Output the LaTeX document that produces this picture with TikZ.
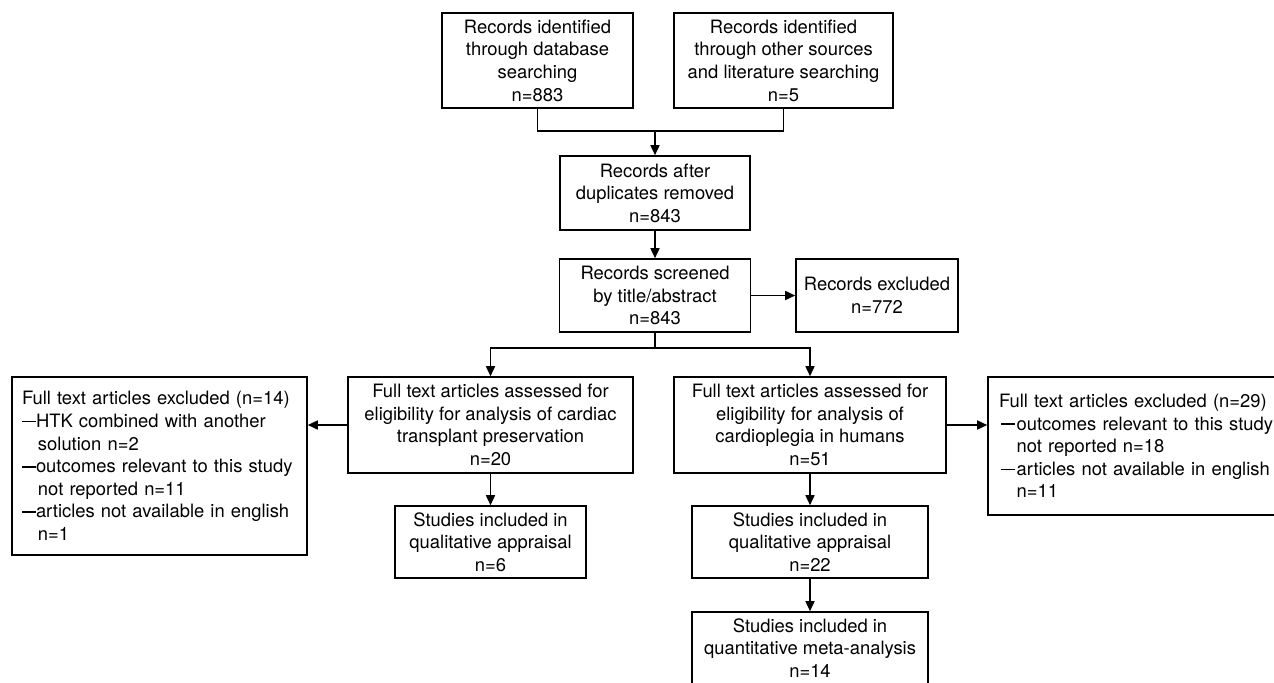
\documentclass[tikz,border=0pt]{standalone}
\usepackage{fontspec}
\setmainfont{TeX Gyre Heros}
\usetikzlibrary{arrows.meta}
\newcommand{\itemdash}{\rule[2.6pt]{7pt}{0.8pt}}
\tikzset{
  box/.style={draw, line width=0.8pt, align=center, inner sep=0pt,
    font=\fontsize{9.2}{11.3}\selectfont},
  listbox/.style={box, align=left},
  link/.style={line width=0.8pt},
  arr/.style={link, -{Triangle[length=5pt,width=4.5pt]}},
}
\begin{document}
\begin{tikzpicture}[x=0.5pt,y=-0.5pt]
  \clip (0,0) rectangle (1274,682);
  % identification
  \node[box, minimum width=95.5pt, minimum height=47.5pt] (db) at (537.5,60.5)
    {Records identified\\through database\\searching\\n=883};
  \node[box, minimum width=109.5pt, minimum height=47.5pt] (other) at (783.5,60.5)
    {Records identified\\through other sources\\and literature searching\\n=5};
  \node[box, minimum width=95pt, minimum height=37pt] (dup) at (655,193)
    {Records after\\duplicates removed\\n=843};
  % screening
  \node[box, minimum width=95.5pt, minimum height=36.5pt] (screen) at (655,295.5)
    {Records screened\\by title/abstract\\n=843};
  \node[box, minimum width=81pt, minimum height=36.5pt] (excl) at (877,295.5)
    {Records excluded\\n=772};
  % eligibility
  \node[box, minimum width=142.5pt, minimum height=48pt] (assL) at (490.5,425)
    {Full text articles assessed for\\eligibility for analysis of cardiac\\transplant preservation\\n=20};
  \node[box, minimum width=136pt, minimum height=48pt] (assR) at (810,425)
    {Full text articles assessed for\\eligibility for analysis of\\cardioplegia in humans\\n=51};
  \node[listbox, text width=137.5pt, inner xsep=5pt, minimum height=89pt] (exL) at (159.5,466)
    {Full text articles excluded (n=14)\\
     \itemdash HTK combined with another\\
     \hphantom{\itemdash}\hspace{1pt}solution n=2\\
     \itemdash outcomes relevant to this study\\
     \hphantom{\itemdash}\hspace{1pt}not reported n=11\\
     \itemdash articles not available in english\\
     \hphantom{\itemdash}\hspace{1pt}n=1};
  \node[listbox, text width=140pt, inner xsep=5.5pt, minimum height=69pt] (exR) at (1139,446)
    {Full text articles excluded (n=29)\\
     \hspace{1pt}\itemdash\hspace{0.8pt}outcomes relevant to this study\\
     \hspace{1pt}\hphantom{\itemdash}\hspace{0.8pt}not reported n=18\\
     \hspace{1pt}\itemdash\hspace{0.8pt}articles not available in english\\
     \hspace{1pt}\hphantom{\itemdash}\hspace{0.8pt}n=11};
  % included
  \node[box, minimum width=95.5pt, minimum height=36pt] (qualL) at (490.5,542)
    {Studies included in\\qualitative appraisal\\n=6};
  \node[box, minimum width=118pt, minimum height=36pt] (qualR) at (810,542)
    {Studies included in\\qualitative appraisal\\n=22};
  \node[box, minimum width=118pt, minimum height=36pt] (quant) at (810,648)
    {Studies included in\\quantitative meta-analysis\\n=14};
  % connectors
  \coordinate (join) at (dup.north |- 0,131);
  \coordinate (split) at (screen.south |- 0,348);
  \draw[link] (db.south) |- (join) -| (other.south);
  \draw[arr] (join) -- (dup.north);
  \draw[arr] (dup.south) -- (screen.north);
  \draw[arr] (screen.east) -- (excl.west);
  \draw[link] (screen.south) -- (split);
  \draw[arr] (split) -| (assL.north);
  \draw[arr] (split) -| (assR.north);
  \draw[arr] (assL.west) -- (assL.west -| exL.east);
  \draw[arr] (assR.east) -- (assR.east -| exR.west);
  \draw[arr] (assL.south) -- (qualL.north);
  \draw[arr] (assR.south) -- (qualR.north);
  \draw[arr] (qualR.south) -- (quant.north);
\end{tikzpicture}
\end{document}
